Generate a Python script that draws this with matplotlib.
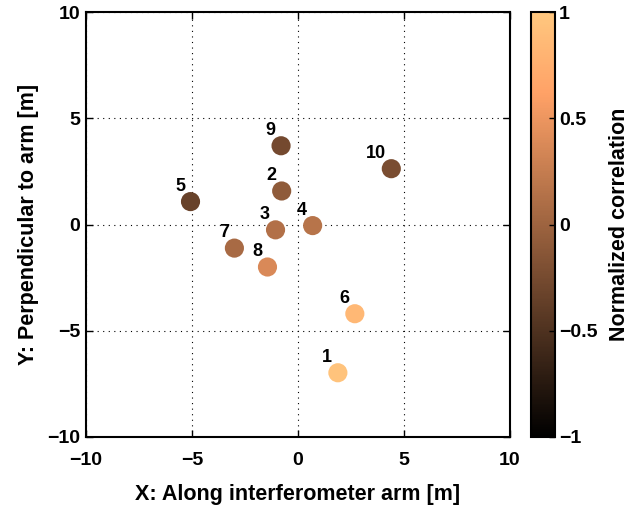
import matplotlib
matplotlib.use("Agg")
import matplotlib.pyplot as plt
import numpy as np

# sensor positions [m] and normalized correlation
labels = ["1", "2", "3", "4", "5", "6", "7", "8", "9", "10"]
x_pos = [1.88, -0.77, -1.06, 0.69, -5.07, 2.68, -3.0, -1.44, -0.8, 4.4]
y_pos = [-6.98, 1.58, -0.25, -0.05, 1.08, -4.2, -1.11, -2.0, 3.71, 2.63]
corr = [0.96, -0.09, 0.13, 0.16, -0.34, 0.85, 0.07, 0.38, -0.26, -0.22]

plt.rcParams['font.family'] = ['Liberation Sans', 'DejaVu Sans']
plt.rcParams['font.weight'] = 'bold'
plt.rcParams['font.size'] = 14

fig = plt.figure(figsize=(6.44, 5.08), dpi=100)
ax = fig.add_axes([0.1335, 0.140, 0.6585, 0.836])
cax = fig.add_axes([0.8245, 0.140, 0.037, 0.836])

sc = ax.scatter(x_pos, y_pos, c=corr, cmap="copper", vmin=-1, vmax=1,
                s=190, edgecolors="none", zorder=3)

for lab, xv, yv in zip(labels, x_pos, y_pos):
    ax.annotate(lab, (xv, yv), xytext=(-4, 5), textcoords="offset points",
                ha="right", va="bottom", fontsize=13, fontweight="bold")

ax.set_xlim(-10, 10)
ax.set_ylim(-10, 10)
ax.set_xticks([-10, -5, 0, 5, 10])
ax.set_yticks([-10, -5, 0, 5, 10])
ax.grid(True, linestyle=(0, (1, 4)), color="black", linewidth=0.8)
ax.tick_params(direction="in", length=5, width=1, top=True, right=True, labelsize=14)
ax.tick_params(axis="x", pad=11)
ax.tick_params(axis="y", pad=4)
for sp in ax.spines.values():
    sp.set_linewidth(1.5)
ax.set_xlabel("X: Along interferometer arm [m]", fontsize=15.5, fontweight="bold", labelpad=11)
ax.set_ylabel("Y: Perpendicular to arm [m]", fontsize=15.5, fontweight="bold", labelpad=6)

cb = fig.colorbar(sc, cax=cax)
cb.set_ticks([-1, -0.5, 0, 0.5, 1])
cb.set_ticklabels(["\u22121", "\u22120.5", "0", "0.5", "1"])
cax.tick_params(direction="in", length=4, width=1, right=True, labelsize=14, pad=3)
cb.outline.set_linewidth(1.5)
cb.set_label("Normalized correlation", fontsize=15.5, fontweight="bold", labelpad=8)

fig.savefig("out.png", dpi=100)
